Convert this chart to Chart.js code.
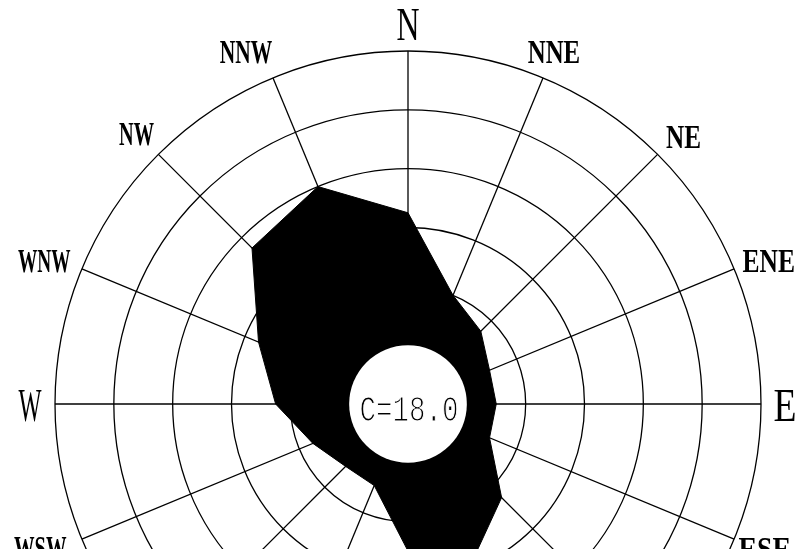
<!DOCTYPE html>
<html>
<head>
<meta charset="utf-8">
<script src="https://cdn.jsdelivr.net/npm/chart.js@4/dist/chart.umd.min.js"></script>
<style>
  html, body { margin: 0; padding: 0; overflow: hidden; background: #fff; width: 803px; height: 549px; }
  canvas { display: block; }
</style>
</head>
<body>
<canvas id="rose" width="803" height="757"></canvas>
<script>
// Sixteen compass directions, clockwise from north
const directions = ['N', 'NNE', 'NE', 'ENE', 'E', 'ESE', 'SE', 'SSE',
                    'S', 'SSW', 'SW', 'WSW', 'W', 'WNW', 'NW', 'NNW'];
// Wind direction frequencies (%)
const frequencies = [9, 4, 3, 2, 2, 2, 5, 7.5, 6, 2, 2, 3, 5, 7, 11, 12];
// Calm frequency (%)
const calm = 18.0;
// Radial scale: the calm circle occupies the first ring, rings every 4 %
const radialMin = -4;
const radialMax = 20;
const ringStep = 4;

const mainDirections = ['N', 'E', 'S', 'W'];
// small placement tweaks for the direction names [dx, dy]
const labelNudge = {
  NNE: [-1, 3], NE: [4, 5], ENE: [6, 4], E: [-3, 1], ESE: [2, -2],
  WSW: [-13, -3], W: [2, 1], WNW: [-9, 4], NW: [0, 2], NNW: [-15, 3]
};

// Draw text squeezed horizontally to a given width, centred on (cx, cy);
// an optional white edge thins the strokes of the glyphs
function drawNarrowText(ctx, text, cx, cy, font, capHeight, targetWidth, thin) {
  ctx.save();
  ctx.font = font;
  const w = ctx.measureText(text).width;
  const sx = targetWidth / w;
  ctx.translate(cx, cy + capHeight / 2);
  ctx.scale(sx, 1);
  ctx.textAlign = 'center';
  ctx.textBaseline = 'alphabetic';
  ctx.fillStyle = '#000';
  ctx.fillText(text, 0, 0);
  if (thin) {
    ctx.strokeStyle = '#fff';
    ctx.lineWidth = thin;
    ctx.strokeText(text, 0, 0);
  }
  ctx.restore();
}

const roseOverlay = {
  id: 'roseOverlay',
  afterDatasetsDraw(chart) {
    const s = chart.scales.r;
    const ctx = chart.ctx;
    // calm circle
    const rCalm = s.getDistanceFromCenterForValue(0);
    ctx.save();
    ctx.beginPath();
    ctx.arc(s.xCenter, s.yCenter, rCalm, 0, Math.PI * 2);
    ctx.fillStyle = '#fff';
    ctx.fill();
    ctx.restore();
    drawNarrowText(ctx, 'C=' + calm.toFixed(1), s.xCenter + 1, s.yCenter + 4,
                   '36px "Liberation Mono"', 25, 99, 1.2);
  },
  afterDraw(chart) {
    const s = chart.scales.r;
    const ctx = chart.ctx;
    const outer = s.getDistanceFromCenterForValue(radialMax);
    chart.data.labels.forEach((label, i) => {
      const big = mainDirections.includes(label);
      const p = s.getPointPosition(i, outer + (big ? 27 : 31));
      const [dx, dy] = labelNudge[label] || [0, 0];
      if (big) {
        drawNarrowText(ctx, label, p.x + dx, p.y + dy, '47px "Liberation Serif"', 31, 23);
      } else {
        drawNarrowText(ctx, label, p.x + dx, p.y + dy, 'bold 34px "Liberation Serif"', 22, 17.5 * label.length);
      }
    });
  }
};

new Chart(document.getElementById('rose'), {
  type: 'radar',
  data: {
    labels: directions,
    datasets: [{
      data: frequencies,
      backgroundColor: '#000',
      borderColor: '#000',
      borderWidth: 1,
      fill: 'start',
      pointRadius: 0,
      tension: 0
    }]
  },
  options: {
    responsive: false,
    animation: false,
    events: [],
    layout: { padding: { left: 55, right: 42, top: 51, bottom: 0 } },
    plugins: { legend: { display: false }, tooltip: { enabled: false } },
    scales: {
      r: {
        min: radialMin,
        max: radialMax,
        ticks: { display: false, stepSize: ringStep },
        grid: { circular: true, color: '#000', lineWidth: 1.3 },
        angleLines: { display: true, color: '#000', lineWidth: 1.3 },
        pointLabels: { display: false }
      }
    }
  },
  plugins: [roseOverlay]
});
</script>
</body>
</html>
